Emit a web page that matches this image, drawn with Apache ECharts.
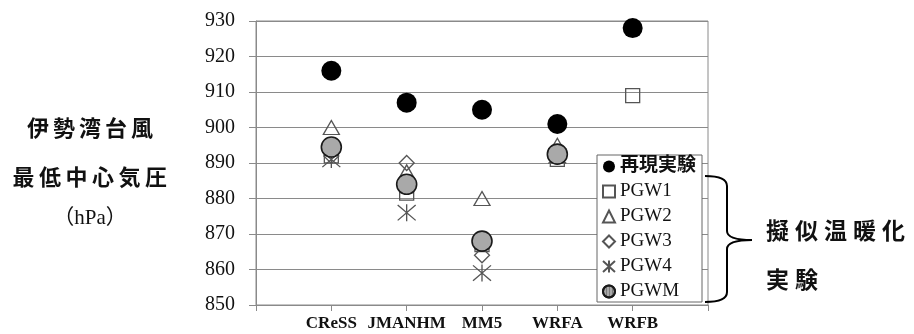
<!DOCTYPE html>
<html>
<head>
<meta charset="utf-8">
<script src="https://cdn.jsdelivr.net/npm/echarts@6/dist/echarts.min.js"></script>
<style>
body { margin: 0; background: #fff; }
#wrap { position: relative; width: 914px; height: 334px; }
#chart { position: absolute; left: 0; top: 0; width: 914px; height: 334px; }
.side {
  position: absolute;
  font-family: 'Noto Sans CJK JP', sans-serif;
  color: #111;
  white-space: nowrap;
}
.left { width: 180px; text-align: center; font-size: 22px; font-weight: bold; line-height: 26px; }
.right { left: 766px; font-size: 23px; font-weight: bold; letter-spacing: 6px; line-height: 26px; }
</style>
</head>
<body>
<div id="wrap">
  <div id="chart"></div>
  <div class="side left" style="left:2px;top:113px;letter-spacing:4px">伊勢湾台風</div>
  <div class="side left" style="left:2px;top:162px;letter-spacing:4.5px">最低中心気圧</div>
  <div class="side left" style="left:0px;top:204px;font-weight:normal;font-size:21px;font-family:'Liberation Serif','Noto Sans CJK JP',serif">（hPa）</div>
  <div class="side right" style="top:216px">擬似温暖化</div>
  <div class="side right" style="top:265px">実験</div>
</div>
<script>
// モデル名
var models = ['CReSS', 'JMANHM', 'MM5', 'WRFA', 'WRFB']
var yTicks = [850, 860, 870, 880, 890, 900, 910, 920, 930]

// 最低中心気圧 (hPa)
var saigen = [916, 907, 905, 901, 928]
var pgw1 = [892, 881.5, 867, 891, 909]
var pgw2 = [900, 887.5, 880, 895, null]
var pgw3 = [892, 890, 864, 892, null]
var pgw4 = [891, 876, 859, 892, null]
var pgwm = [894.5, 884, 868, 892.5, null]

// 両端に空のカテゴリを足す
function pad (arr) {
  return [null].concat(arr, [null])
}
var xData = [''].concat(models, [''])

var hollow = {
  color: 'rgba(0,0,0,0)',
  borderColor: '#555',
  borderWidth: 1.3,
  opacity: 1
}
var asterisk = 'path://M0,1 L20,19 M0,19 L20,1 M10,0 L10,20'

// 右の波括弧
var braceStyle = { fill: 'none', stroke: '#000', lineWidth: 2 }
function curve (x1, y1, cx, cy, x2, y2) {
  return { type: 'bezierCurve', shape: { x1: x1, y1: y1, cpx1: cx, cpy1: cy, x2: x2, y2: y2 }, style: braceStyle }
}
function seg (x1, y1, x2, y2) {
  return { type: 'line', shape: { x1: x1, y1: y1, x2: x2, y2: y2 }, style: braceStyle }
}

var myChart = echarts.init(document.getElementById('chart'))
myChart.setOption({
  animation: false,
  grid: {
    left: 256,
    right: 206,
    top: 21,
    bottom: 29,
    show: true,
    borderColor: '#8a8a8a',
    borderWidth: 1
  },
  legend: {
    orient: 'vertical',
    left: 597,
    top: 155,
    padding: [2, 6, 1, 5],
    itemGap: 6,
    itemWidth: 12,
    itemHeight: 12,
    backgroundColor: '#fff',
    borderColor: '#666',
    borderWidth: 1,
    textStyle: {
      fontFamily: 'Liberation Serif, Noto Sans CJK JP, serif',
      fontSize: 19,
      lineHeight: 19,
      color: '#111'
    },
    data: [
      { name: '再現実験', textStyle: { fontWeight: 'bold' } },
      'PGW1', 'PGW2', 'PGW3', 'PGW4', 'PGWM'
    ]
  },
  xAxis: {
    type: 'category',
    data: xData,
    boundaryGap: false,
    axisLine: { lineStyle: { color: '#8a8a8a' } },
    axisTick: { interval: 0, length: 6, lineStyle: { color: '#8a8a8a' } },
    axisLabel: {
      interval: 0,
      margin: 10,
      fontFamily: 'Liberation Serif, serif',
      fontWeight: 'bold',
      fontSize: 17,
      color: '#111'
    },
    splitLine: { show: false }
  },
  yAxis: {
    type: 'value',
    min: yTicks[0],
    max: yTicks[yTicks.length - 1],
    interval: 10,
    axisLine: { show: true, lineStyle: { color: '#8a8a8a' } },
    axisTick: { show: true, length: 7, lineStyle: { color: '#8a8a8a' } },
    axisLabel: {
      margin: 21,
      fontFamily: 'Liberation Serif, serif',
      fontSize: 20,
      color: '#111'
    },
    splitLine: { lineStyle: { color: '#8a8a8a', width: 1 } }
  },
  series: [
    {
      name: 'PGW1',
      type: 'scatter',
      symbol: 'rect',
      symbolSize: 14,
      itemStyle: hollow,
      data: pad(pgw1)
    },
    {
      name: 'PGW2',
      type: 'scatter',
      symbol: 'triangle',
      symbolSize: [16, 14],
      itemStyle: hollow,
      data: pad(pgw2)
    },
    {
      name: 'PGW3',
      type: 'scatter',
      symbol: 'diamond',
      symbolSize: 15,
      itemStyle: hollow,
      data: pad(pgw3)
    },
    {
      name: 'PGW4',
      type: 'scatter',
      symbol: asterisk,
      symbolSize: [18, 17],
      itemStyle: hollow,
      data: pad(pgw4)
    },
    {
      name: 'PGWM',
      type: 'scatter',
      symbol: 'circle',
      symbolSize: 20,
      itemStyle: {
        color: '#a9a9a9',
        borderColor: '#1a1a1a',
        borderWidth: 1.6,
        opacity: 1,
        decal: {
          symbol: 'rect',
          symbolSize: 1,
          color: 'rgba(70,70,70,0.45)',
          dashArrayX: [1, 2],
          dashArrayY: [4, 0]
        }
      },
      data: pad(pgwm)
    },
    {
      name: '再現実験',
      type: 'scatter',
      symbol: 'circle',
      symbolSize: 20,
      itemStyle: { color: '#000', opacity: 1 },
      data: pad(saigen)
    }
  ],
  graphic: [
    curve(705, 176, 727, 176, 727, 186),
    seg(727, 186, 727, 231),
    curve(727, 231, 727, 240, 752, 240),
    curve(752, 240, 727, 240, 727, 249),
    seg(727, 249, 727, 292),
    curve(727, 292, 727, 302, 705, 302)
  ]
})
</script>
</body>
</html>
